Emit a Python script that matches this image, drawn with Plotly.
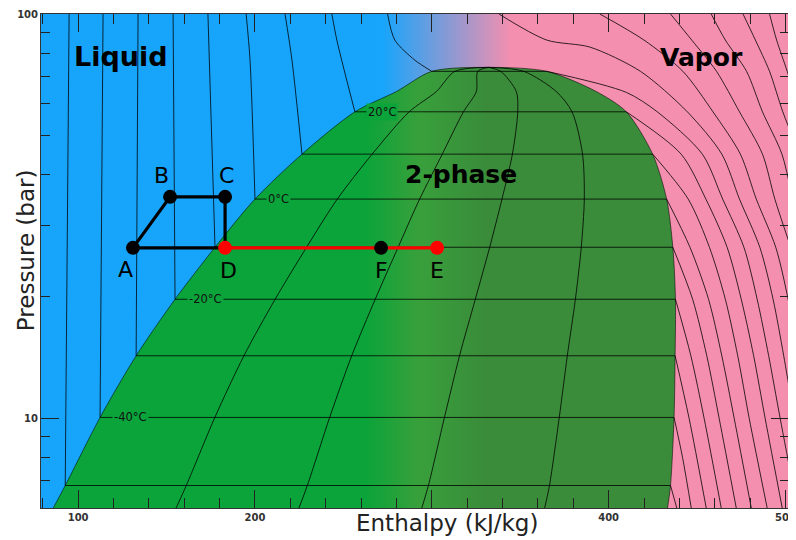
import math
import plotly.graph_objects as go

# ---------------- data ----------------
X_RANGE = [79, 502]          # enthalpy, kJ/kg
Y_RANGE = [6, 100]           # pressure, bar (log axis)

# saturation dome (CO2): temperature, pressure, liquid / vapour enthalpy
SAT_T = [-53.1, -50, -40, -30, -20, -10, 0, 10, 20, 25, 30, 31.0]
SAT_P = [6.0, 6.82, 10.05, 14.28, 19.70, 26.49, 34.85, 45.02, 57.29, 64.3, 72.14, 73.8]
SAT_HL = [85.9, 92.7, 112.4, 132.8, 154.8, 177.4, 200.0, 226.6, 256.5, 280.0, 300.0, 332.2]
SAT_HV = [433.3, 435.0, 437.0, 437.6, 437.8, 436.3, 432.8, 424.9, 410.0, 393.0, 365.0, 332.2]

QUALITY = [0.2, 0.4, 0.6, 0.8]

# sub-critical isotherms: liquid branch and vapour branch
ISO_T = [-50, -40, -30, -20, -10, 0, 10, 20, 30]
LIQ_P = [[100, 6.82], [100, 10.05], [100, 14.28], [100, 19.70], [100, 26.49],
         [100, 77.0, 34.85], [100, 77.0, 45.02], [100, 86.2, 57.29],
         [100, 86.2, 76.9, 72.14]]
LIQ_H = [[94.9, 92.7], [114.1, 112.4], [133.9, 132.8], [153.7, 154.8], [173.4, 177.4],
         [195.0, 197.2, 200.0], [217.0, 220.9, 226.6], [243.5, 246.3, 256.5],
         [275.0, 279.1, 290.4, 300.0]]
VAP_P = [[6.82, 5.9],
         [10.05, 8.0, 5.9],
         [14.28, 10.0, 5.9],
         [19.7, 14.28, 10.0, 5.9],
         [26.49, 19.7, 14.28, 10.0, 5.9],
         [34.85, 26.49, 19.7, 14.28, 10.0, 5.9],
         [45.02, 34.85, 26.49, 19.7, 14.28, 10.0, 5.9],
         [57.29, 45.02, 34.85, 26.49, 19.7, 14.28, 10.0, 5.9],
         [72.14, 64.0, 57.29, 45.02, 34.85, 26.49, 19.7, 14.28, 10.0, 5.9]]
VAP_H = [[435.0, 439.0],
         [437.0, 441.8, 447.0],
         [437.6, 445.5, 455.5],
         [437.8, 446.5, 454.0, 464.0],
         [436.3, 447.5, 455.5, 462.5, 472.5],
         [432.8, 446.0, 456.5, 464.0, 471.0, 481.0],
         [424.9, 445.0, 457.0, 466.0, 473.0, 479.5, 490.0],
         [410.0, 441.0, 455.0, 467.0, 475.0, 482.0, 488.5, 498.5],
         [365.0, 410.0, 427.5, 453.0, 464.5, 476.5, 484.0, 490.5, 497.0, 507.0]]

# super-critical isotherms
SUP_T = [40, 50, 60, 70, 80, 90]
SUP_P = [[100, 86.2, 82.8, 72.14, 57.29, 45.02, 34.85, 26.49, 19.7, 14.28, 10.0],
         [100, 86.2, 72.14, 57.29, 45.02, 34.85, 26.49, 19.7, 14.28],
         [100, 86.2, 72.14, 57.29, 45.02, 34.85, 26.49],
         [100, 86.2, 72.14, 57.29, 45.02, 34.85],
         [100, 86.2, 72.14, 57.29, 45.02],
         [100, 86.2, 72.14, 57.29]]
SUP_H = [[338, 365, 389.5, 418, 444.5, 464, 474, 485.5, 493, 499, 505],
         [395, 420, 442, 459, 474.5, 483.5, 494.5, 501.5, 507],
         [435, 447, 461, 474, 487, 494, 503],
         [458, 466, 478, 487, 498, 504],
         [476, 483, 491, 498.5, 508],
         [491, 495, 501, 508]]

LABEL_T = [-40, -20, 0, 20]

# refrigeration cycle points
PT_NAMES = ["A", "B", "C", "D", "E", "F"]
PT_H = [131.0, 152.0, 183.1, 183.1, 303.0, 271.3]
PT_P = [26.4, 35.3, 35.3, 26.4, 26.4, 26.4]
CYCLE = ["A", "B", "C", "D", "A"]
EXPANSION = ["D", "E"]

# ---------------- style ----------------
BLUE = "#17A5FB"
PINK = "#F58FAF"
GREEN_L = "#0AA43A"
GREEN_M = "#38A03B"
GREEN_D = "#3A8C3A"
LINE = "rgba(0,0,0,0.78)"
FONT = "DejaVu Sans"

fig = go.Figure()

# background (liquid blue -> vapour pink)
fig.add_trace(go.Scatter(
    x=[X_RANGE[0], X_RANGE[1], X_RANGE[1], X_RANGE[0], X_RANGE[0]],
    y=[Y_RANGE[0], Y_RANGE[0], Y_RANGE[1], Y_RANGE[1], Y_RANGE[0]],
    mode="lines", line=dict(width=0), fill="toself",
    fillgradient=dict(type="horizontal", start=272, stop=345,
                      colorscale=[[0, BLUE], [1, PINK]]),
    hoverinfo="skip", showlegend=False))

# two-phase dome
dome_x = SAT_HL + SAT_HV[::-1][1:]
dome_y = SAT_P + SAT_P[::-1][1:]
fig.add_trace(go.Scatter(
    x=dome_x, y=dome_y, mode="lines",
    line=dict(color="rgba(0,0,0,0.55)", width=1, shape="spline", smoothing=0.8),
    fill="toself",
    fillgradient=dict(type="horizontal", start=262, stop=330,
                      colorscale=[[0, GREEN_L], [0.45, GREEN_M], [1, GREEN_D]]),
    hoverinfo="skip", showlegend=False))

def add_line(xs, ys, spline=True):
    fig.add_trace(go.Scatter(
        x=xs, y=ys, mode="lines",
        line=dict(color=LINE, width=1, shape="spline" if spline else "linear", smoothing=0.8),
        hoverinfo="skip", showlegend=False))

# quality lines
for q in QUALITY:
    add_line([hl + q * (hv - hl) for hl, hv in zip(SAT_HL, SAT_HV)], SAT_P)

# sub-critical isotherms
for t, lp, lh, vp, vh in zip(ISO_T, LIQ_P, LIQ_H, VAP_P, VAP_H):
    i = SAT_T.index(t)
    add_line(lh, lp)
    add_line([SAT_HL[i], SAT_HV[i]], [SAT_P[i], SAT_P[i]], spline=False)
    add_line(vh, vp)

# super-critical isotherms
for t, sp, sh in zip(SUP_T, SUP_P, SUP_H):
    add_line(sh, sp)

# cycle
idx = {n: k for k, n in enumerate(PT_NAMES)}
fig.add_trace(go.Scatter(
    x=[PT_H[idx[n]] for n in CYCLE], y=[PT_P[idx[n]] for n in CYCLE],
    mode="lines", line=dict(color="black", width=3.2),
    hoverinfo="skip", showlegend=False))
fig.add_trace(go.Scatter(
    x=[PT_H[idx[n]] for n in EXPANSION], y=[PT_P[idx[n]] for n in EXPANSION],
    mode="lines", line=dict(color="#FF0000", width=3.2),
    hoverinfo="skip", showlegend=False))
pt_colors = {"A": "black", "B": "black", "C": "black", "D": "#FF0000", "E": "#FF0000", "F": "black"}
fig.add_trace(go.Scatter(
    x=PT_H, y=PT_P, mode="markers",
    marker=dict(size=14, color=[pt_colors[n] for n in PT_NAMES], line=dict(width=0)),
    hoverinfo="skip", showlegend=False))

annotations = []
# point letters
shifts = {"A": (-7, -22), "B": (-9, 21), "C": (1, 21), "D": (3, -23), "E": (0, -23), "F": (0, -23)}
for n, h, p in zip(PT_NAMES, PT_H, PT_P):
    dx, dy = shifts[n]
    annotations.append(dict(x=h, y=math.log10(p), xref="x", yref="y", text=n, showarrow=False,
                            xshift=dx, yshift=dy, font=dict(family=FONT, size=22, color="black")))

# isotherm labels
for t in LABEL_T:
    i = SAT_T.index(t)
    annotations.append(dict(x=SAT_HL[i] + 6.5, y=math.log10(SAT_P[i]), xref="x", yref="y",
                            text=f"{t}°C", showarrow=False, xanchor="left",
                            bgcolor=GREEN_L, borderpad=1,
                            font=dict(family=FONT, size=11.5, color="#111")))

# region labels
for txt, h, p, size in [("Liquid", 124.5, 78.3, 27), ("Vapor", 452.3, 77.9, 25),
                        ("2-phase", 316.6, 40.0, 25)]:
    annotations.append(dict(x=h, y=math.log10(p), xref="x", yref="y", text=f"<b>{txt}</b>",
                            showarrow=False, font=dict(family=FONT, size=size, color="black")))

# axis titles
annotations.append(dict(x=0.543, y=-0.031, xref="paper", yref="paper", text="Enthalpy (kJ/kg)",
                        showarrow=False, yanchor="middle",
                        font=dict(family=FONT, size=23, color="#222")))
annotations.append(dict(x=-0.02, y=0.522, xref="paper", yref="paper", text="Pressure (bar)",
                        showarrow=False, textangle=-90, xanchor="center",
                        font=dict(family=FONT, size=23, color="#222")))

X_TICKS = [100, 200, 300, 400, 500]
X_TICKTEXT = ["100", "200", "", "400", "500"]
X_MINOR = [v for v in range(80, 501, 20) if v % 100]
Y_TICKS = [10, 100]
Y_MINOR = [7, 8, 9, 20, 30, 40, 50, 60, 70, 80, 90]

axis_common = dict(showgrid=False, zeroline=False, showline=True, linecolor="#333", linewidth=1,
                   mirror="allticks", ticks="inside", ticklen=18, tickwidth=1, tickcolor="#222",
                   automargin=False,
                   tickfont=dict(family=FONT, size=10, color="#333", weight="bold"))
# the page body has an 8 px margin, so the figure is drawn 8 px in from the corner
fig.update_layout(
    width=788, height=532,
    margin=dict(l=33, r=7, t=6, b=32),
    paper_bgcolor="white", plot_bgcolor="white",
    xaxis=dict(range=X_RANGE, tickvals=X_TICKS, ticktext=X_TICKTEXT,
               minor=dict(tickvals=X_MINOR, ticks="inside", ticklen=10, tickcolor="#222"),
               **axis_common),
    yaxis=dict(type="log", range=[math.log10(Y_RANGE[0]), math.log10(Y_RANGE[1])],
               tickvals=Y_TICKS, ticktext=["10", "100"],
               minor=dict(tickvals=Y_MINOR, ticks="inside", ticklen=9, tickcolor="#222"),
               **axis_common),
    annotations=annotations,
    showlegend=False,
)

fig.write_html("out.html")
